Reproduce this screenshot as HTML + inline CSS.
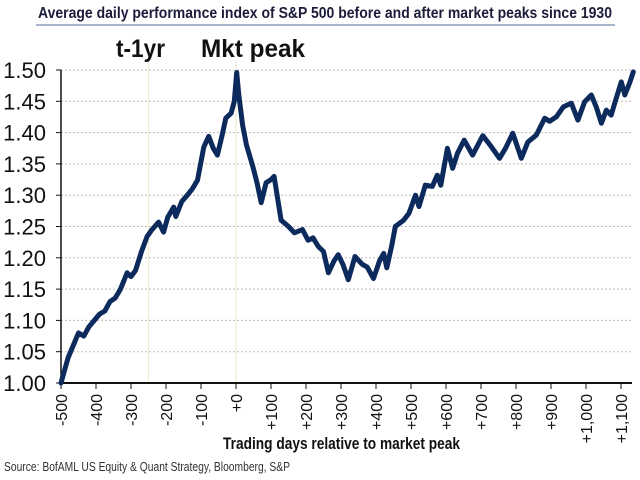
<!DOCTYPE html>
<html><head><meta charset="utf-8"><style>
body{margin:0;background:#fff;}
svg{display:block;font-family:"Liberation Sans Narrow","Liberation Sans",sans-serif;}
</style></head><body>
<svg id="chart" width="640" height="480" viewBox="0 0 640 480">
<text x="325" y="18" text-anchor="middle" font-weight="bold" font-size="16" fill="#1c1c3a" textLength="574" lengthAdjust="spacingAndGlyphs">Average daily performance index of S&amp;P 500 before and after market peaks since 1930</text>
<line x1="36" y1="25" x2="615" y2="25" stroke="#8a9bb8" stroke-width="1.5"/>
<text x="116" y="57" font-size="25" font-weight="bold" fill="#111" textLength="49" lengthAdjust="spacingAndGlyphs">t-1yr</text>
<text x="201" y="57" font-size="25" font-weight="bold" fill="#111" textLength="104" lengthAdjust="spacingAndGlyphs">Mkt peak</text>
<g id="grid"></g><g id="axes"></g><g id="series"></g>
<text x="223" y="449" font-weight="bold" font-size="17" fill="#111" textLength="237" lengthAdjust="spacingAndGlyphs">Trading days relative to market peak</text>
<text x="4" y="471" font-size="12.5" fill="#333" textLength="286" lengthAdjust="spacingAndGlyphs">Source: BofAML US Equity &amp; Quant Strategy, Bloomberg, S&amp;P</text>
</svg>
<script>
const days=[-500,-490,-480,-465,-450,-435,-420,-405,-390,-375,-360,-345,-330,-311,-300,-287,-270,-254,-240,-221,-207,-195,-178,-172,-155,-139,-125,-110,-92,-78,-65,-53,-40,-29,-14,-5,2,8,19,30,48,60,72,86,100,109,129,150,167,190,206,220,235,250,264,280,292,305,321,340,360,375,393,410,422,431,445,455,479,494,513,523,541,561,575,585,604,619,633,652,676,705,729,753,770,791,815,834,858,882,896,915,935,958,977,996,1015,1030,1044,1058,1072,1082,1101,1111,1125,1135];
const values=[1.00,1.02,1.04,1.06,1.08,1.075,1.09,1.10,1.11,1.115,1.13,1.136,1.15,1.176,1.17,1.18,1.21,1.234,1.245,1.257,1.241,1.265,1.281,1.266,1.29,1.30,1.31,1.324,1.377,1.394,1.375,1.364,1.395,1.423,1.431,1.45,1.496,1.46,1.412,1.38,1.346,1.32,1.288,1.32,1.325,1.33,1.26,1.25,1.24,1.245,1.228,1.232,1.218,1.21,1.176,1.195,1.205,1.19,1.165,1.202,1.19,1.185,1.167,1.195,1.207,1.184,1.22,1.25,1.26,1.271,1.30,1.282,1.316,1.314,1.332,1.316,1.375,1.343,1.367,1.388,1.364,1.395,1.378,1.359,1.375,1.399,1.359,1.385,1.396,1.423,1.418,1.425,1.441,1.447,1.42,1.449,1.46,1.44,1.415,1.436,1.428,1.447,1.481,1.46,1.48,1.497];
const yTicks=[1.00,1.05,1.10,1.15,1.20,1.25,1.30,1.35,1.40,1.45,1.50];
const xTicks=[-500,-400,-300,-200,-100,0,100,200,300,400,500,600,700,800,900,1000,1100];
const xTickLabels=["-500","-400","-300","-200","-100","+0","+100","+200","+300","+400","+500","+600","+700","+800","+900","+1,000","+1,100"];
const markers=[-250,0];
const NS="http://www.w3.org/2000/svg";
function x(d){return 61+(d+500)*0.35;}
function y(v){return 383-(v-1.0)*626;}
function mk(t,a,p){const e=document.createElementNS(NS,t);for(const k in a)e.setAttribute(k,a[k]);p.appendChild(e);return e;}
const grid=document.getElementById('grid'),axes=document.getElementById('axes'),series=document.getElementById('series');
markers.forEach(m=>{const l=mk('line',{x1:x(m),x2:x(m),y1:62,y2:383,stroke:'#f1eccc','stroke-width':1.2},grid);

});
yTicks.forEach(v=>{
 if(v>1.0){const g=mk('line',{x1:61,x2:632,y1:y(v),y2:y(v),stroke:'#bbb','stroke-width':1,'stroke-dasharray':'2,2'},grid);
 
 }
 const t=mk('line',{x1:56,x2:61,y1:y(v),y2:y(v),stroke:'#111','stroke-width':1},axes);
 
 
 const tx=mk('text',{x:46,y:y(v)+8,'text-anchor':'end','font-size':22,fill:'#111'},axes);
 tx.textContent=v.toFixed(2);
 
 
});
const ya=mk('line',{x1:61,x2:61,y1:70,y2:383,stroke:'#111','stroke-width':1.5},axes);


const xa=mk('line',{x1:61,x2:632,y1:383,y2:383,stroke:'#111','stroke-width':2},axes);


xTicks.forEach((d,i)=>{
 const t=mk('line',{x1:x(d),x2:x(d),y1:383,y2:389,stroke:'#111','stroke-width':1},axes);
 
 
 const tx=mk('text',{x:0,y:0,'text-anchor':'end','font-size':16,fill:'#111',transform:`translate(${x(d)+6},394) rotate(-90)`},axes);
 tx.textContent=xTickLabels[i];
 
 
});
const pts=days.map((d,i)=>x(d).toFixed(1)+','+y(values[i]).toFixed(1)).join(' ');
const pl=mk('polyline',{points:pts,fill:'none',stroke:'#0c2a5b','stroke-width':5,'stroke-linejoin':'round','stroke-linecap':'round'},series);


</script>
</body></html>
